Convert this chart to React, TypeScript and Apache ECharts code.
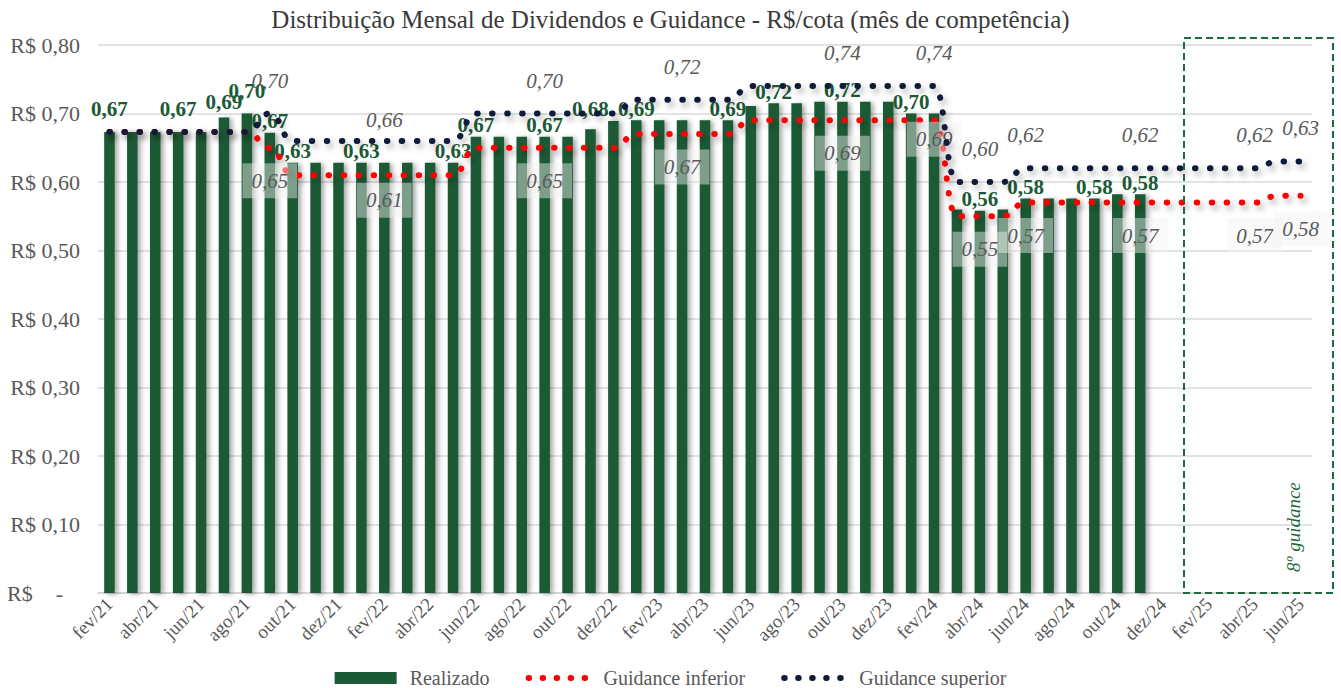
import React, { useEffect, useRef } from 'react';
import * as echarts from 'echarts';

// ---------- data ----------
const months = [
  'fev/21','mar/21','abr/21','mai/21','jun/21','jul/21','ago/21','set/21','out/21','nov/21','dez/21',
  'jan/22','fev/22','mar/22','abr/22','mai/22','jun/22','jul/22','ago/22','set/22','out/22','nov/22','dez/22',
  'jan/23','fev/23','mar/23','abr/23','mai/23','jun/23','jul/23','ago/23','set/23','out/23','nov/23','dez/23',
  'jan/24','fev/24','mar/24','abr/24','mai/24','jun/24','jul/24','ago/24','set/24','out/24','nov/24','dez/24',
  'jan/25','fev/25','mar/25','abr/25','mai/25','jun/25'
];

const realizado = [
  0.673, 0.673, 0.673, 0.673, 0.673, 0.694, 0.70, 0.672, 0.628, 0.628, 0.628,
  0.628, 0.628, 0.628, 0.628, 0.628, 0.666, 0.666, 0.666, 0.666, 0.666, 0.677, 0.689,
  0.69, 0.69, 0.69, 0.69, 0.69, 0.711, 0.715, 0.715, 0.717, 0.717, 0.717, 0.717,
  0.70, 0.70, 0.56, 0.558, 0.56, 0.576, 0.576, 0.576, 0.576, 0.582, 0.582
];

const guidanceInferior = [
  0.673, 0.673, 0.673, 0.673, 0.673, 0.673, 0.673, 0.65, 0.61, 0.61, 0.61,
  0.61, 0.61, 0.61, 0.61, 0.61, 0.65, 0.65, 0.65, 0.65, 0.65, 0.65, 0.65,
  0.67, 0.67, 0.67, 0.67, 0.67, 0.69, 0.69, 0.69, 0.69, 0.69, 0.69, 0.69,
  0.69, 0.69, 0.55, 0.55, 0.55, 0.57, 0.57, 0.57, 0.57, 0.57, 0.57, 0.57,
  0.57, 0.57, 0.57, 0.57, 0.58, 0.58
];

const guidanceSuperior = [
  0.673, 0.673, 0.673, 0.673, 0.673, 0.673, 0.673, 0.70, 0.66, 0.66, 0.66,
  0.66, 0.66, 0.66, 0.66, 0.66, 0.70, 0.70, 0.70, 0.70, 0.70, 0.70, 0.70,
  0.72, 0.72, 0.72, 0.72, 0.72, 0.74, 0.74, 0.74, 0.74, 0.74, 0.74, 0.74,
  0.74, 0.74, 0.60, 0.60, 0.60, 0.62, 0.62, 0.62, 0.62, 0.62, 0.62, 0.62,
  0.62, 0.62, 0.62, 0.62, 0.63, 0.63
];

const yTicks = [0, 0.1, 0.2, 0.3, 0.4, 0.5, 0.6, 0.7, 0.8];

// which points carry a value label
const realizadoLabelIdx = [0, 3, 5, 6, 7, 8, 11, 15, 16, 19, 21, 23, 27, 29, 32, 35, 38, 40, 43, 45];
const guidanceLabelIdx = [7, 12, 19, 25, 32, 36, 38, 40, 45, 50, 52];

// ---------- styles ----------
const SERIF = "'Liberation Serif', 'DejaVu Serif', serif";
const GREEN = '#1a5a35';
const RED = '#ff0000';
const NAVY = '#111a3a';
const GRAY = '#595959';

const realizadoLabelDist: Record<number, number> = { 0: 12, 3: 12, 5: 5, 6: 12, 21: 10 };
const inferiorLabelDist: Record<number, number> = { 12: 7, 36: 1 };
const superiorLabelDist: Record<number, number> = { 12: 3 };

const fmt2 = (v: number) => (Math.round(v * 100 + 1e-6) / 100).toFixed(2).replace('.', ',');

function withLabels(vals: number[], idx: number[], dist: Record<number, number>, def: number) {
  return vals.map((v, i) => {
    if (!idx.includes(i)) return v;
    return { value: v, label: { show: true, distance: dist[i] ?? def } };
  });
}

export default function App() {
  const ref = useRef<HTMLDivElement>(null);

  useEffect(() => {
    if (!ref.current) return;
    const chart = echarts.init(ref.current, undefined, { renderer: 'svg' });

    const lineShadow = {
      shadowColor: 'rgba(0,0,0,0.35)',
      shadowBlur: 6,
      shadowOffsetX: 3,
      shadowOffsetY: 4,
    };

    const guidanceLabel = {
      show: false,
      color: GRAY,
      fontStyle: 'italic',
      fontSize: 21,
      fontFamily: SERIF,
      padding: [7, 9],
      formatter: (p: any) => fmt2(p.value),
    };

    const yRich = {
      a: { fontSize: 22, fontFamily: SERIF, color: GRAY },
      b: { fontSize: 22, fontFamily: SERIF, color: GRAY, padding: [0, 17, 0, 23] },
    };

    const option: any = {
      animation: false,
      backgroundColor: '#ffffff',
      title: {
        text: 'Distribuição Mensal de Dividendos e Guidance - R$/cota (mês de competência)',
        left: 'center',
        top: 2,
        textStyle: { fontFamily: SERIF, fontSize: 25, fontWeight: 'normal', color: '#3a3a3a' },
      },
      legend: {
        top: 662,
        left: 'center',
        itemWidth: 62,
        itemHeight: 12,
        itemGap: 36,
        lineStyle: { width: 6, type: [0.5, 13.5], cap: 'round', shadowBlur: 0 },
        textStyle: { fontFamily: SERIF, fontSize: 20, lineHeight: 22, color: GRAY, padding: [0, 0, 0, 8] },
        data: [
          { name: 'Realizado', icon: 'rect' },
          { name: 'Guidance inferior', itemStyle: { color: 'rgba(0,0,0,0)', borderWidth: 0 } },
          { name: 'Guidance superior', itemStyle: { color: 'rgba(0,0,0,0)', borderWidth: 0 } },
        ],
      },
      grid: { left: 98, right: 29, top: 45, bottom: 95, containLabel: false },
      xAxis: {
        type: 'category',
        data: months,
        boundaryGap: true,
        axisTick: { show: false },
        axisLine: { lineStyle: { color: '#d0d0d0', width: 1.5 } },
        axisLabel: {
          interval: 1,
          rotate: 45,
          margin: 8,
          color: GRAY,
          fontSize: 19,
          fontFamily: SERIF,
        },
        splitLine: { show: false },
      },
      yAxis: {
        type: 'value',
        min: yTicks[0],
        max: yTicks[yTicks.length - 1],
        interval: 0.1,
        axisLine: { show: false },
        axisTick: { show: false },
        axisLabel: {
          margin: 18,
          color: GRAY,
          fontSize: 22,
          fontFamily: SERIF,
          formatter: (v: number) => (Math.abs(v) < 1e-9 ? '{a|R$}{b|-}' : 'R$ ' + v.toFixed(2).replace('.', ',')),
          rich: yRich,
        },
        splitLine: { lineStyle: { color: '#d9d9d9', width: 1.5 } },
      },
      series: [
        {
          name: 'Realizado',
          type: 'bar',
          data: withLabels(realizado, realizadoLabelIdx, realizadoLabelDist, 1),
          barWidth: '46%',
          itemStyle: {
            color: GREEN,
            shadowColor: 'rgba(0,0,0,0.35)',
            shadowBlur: 5,
            shadowOffsetX: 3,
            shadowOffsetY: 1,
          },
          label: {
            show: false,
            position: 'top',
            color: GREEN,
            fontWeight: 'bold',
            fontSize: 21,
            fontFamily: SERIF,
            formatter: (p: any) => fmt2(p.value),
          },
          z: 2,
        },
        {
          name: 'Guidance inferior',
          type: 'line',
          data: withLabels(guidanceInferior, guidanceLabelIdx, inferiorLabelDist, 15),
          smooth: 0.5,
          smoothMonotone: 'x',
          symbol: 'circle',
          symbolSize: 1,
          showSymbol: true,
          showAllSymbol: true,
          itemStyle: { color: 'rgba(0,0,0,0)' },
          lineStyle: { color: RED, width: 6, type: [0.5, 14.5], cap: 'round', ...lineShadow },
          label: {
            ...guidanceLabel,
            position: 'bottom',
            backgroundColor: 'rgba(242,242,242,0.45)',
          },
          emphasis: { disabled: true },
          z: 3,
        },
        {
          name: 'Guidance superior',
          type: 'line',
          data: withLabels(guidanceSuperior, guidanceLabelIdx, superiorLabelDist, 15),
          smooth: 0.5,
          smoothMonotone: 'x',
          symbol: 'circle',
          symbolSize: 1,
          showSymbol: true,
          showAllSymbol: true,
          itemStyle: { color: 'rgba(0,0,0,0)' },
          lineStyle: { color: NAVY, width: 6, type: [0.5, 14.5], cap: 'round', ...lineShadow },
          label: {
            ...guidanceLabel,
            position: 'top',
          },
          emphasis: { disabled: true },
          z: 4,
        },
      ],
      graphic: [
        {
          type: 'rect',
          shape: { x: 1184, y: 38, width: 149, height: 555 },
          style: { fill: 'none', stroke: '#1e6a3c', lineWidth: 2, lineDash: [7, 4] },
          silent: true,
          z: 10,
        },
        {
          type: 'text',
          x: 1293,
          y: 572,
          rotation: Math.PI / 2,
          style: {
            text: '8º guidance',
            fill: '#1e6a3c',
            font: `italic 19px ${SERIF}`,
            align: 'left',
            verticalAlign: 'middle',
          },
          silent: true,
          z: 10,
        },
      ],
    };

    chart.setOption(option);
    return () => chart.dispose();
  }, []);

  return (
    <div
      ref={ref}
      style={{ position: 'absolute', left: 0, top: 0, width: 1341, height: 688, background: '#fff' }}
    />
  );
}
